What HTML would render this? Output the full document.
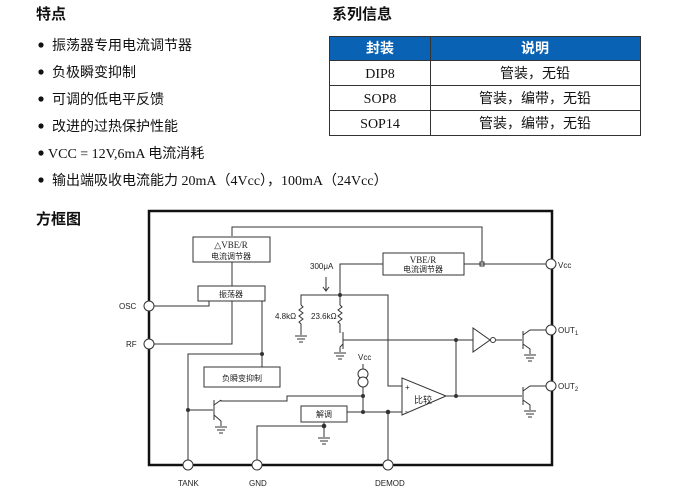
<!DOCTYPE html>
<html><head><meta charset="utf-8"><style>
html,body{margin:0;padding:0;background:#fff;}
svg{display:block}
.cj{font-family:"Liberation Serif","Noto Sans CJK SC",serif;}
.sm{font-family:"Liberation Sans","Noto Sans CJK SC",sans-serif;font-size:8px;fill:#222}
</style></head><body>
<svg width="675" height="491" viewBox="0 0 675 491" xmlns="http://www.w3.org/2000/svg">
<defs>
<g id="gnd" stroke="#333" stroke-width="1"><line x1="-6" y1="0" x2="6" y2="0"/><line x1="-4" y1="3" x2="4" y2="3"/><line x1="-2" y1="6" x2="2" y2="6"/></g>
</defs>
<!-- headings -->
<g font-family="'Liberation Sans','Noto Sans CJK SC',sans-serif" font-weight="bold" font-size="15" fill="#111">
<text x="36" y="19">特点</text>
<text x="332" y="19">系列信息</text>
<text x="36" y="224">方框图</text>
</g>
<g class="cj" font-size="14" fill="#111">
<circle cx="41" cy="45" r="2.6"/><text x="52" y="50">振荡器专用电流调节器</text>
<circle cx="41" cy="72" r="2.6"/><text x="52" y="77">负极瞬变抑制</text>
<circle cx="41" cy="99" r="2.6"/><text x="52" y="104">可调的低电平反馈</text>
<circle cx="41" cy="126" r="2.6"/><text x="52" y="131">改进的过热保护性能</text>
<circle cx="41" cy="153" r="2.6"/><text x="48" y="158">VCC = 12V,6mA 电流消耗</text>
<circle cx="41" cy="180" r="2.6"/><text x="52" y="185">输出端吸收电流能力 20mA（4Vcc），100mA（24Vcc）</text>
</g>
<!-- table -->
<rect x="329" y="36" width="311" height="24" fill="#0a62b4"/>
<g stroke="#333" stroke-width="1" fill="none">
<rect x="329.5" y="36.5" width="311" height="99"/>
<line x1="329" y1="60.5" x2="640" y2="60.5"/>
<line x1="329" y1="85.5" x2="640" y2="85.5"/>
<line x1="329" y1="110.5" x2="640" y2="110.5"/>
<line x1="430.5" y1="36" x2="430.5" y2="135"/>
</g>
<g font-family="'Liberation Sans','Noto Sans CJK SC',sans-serif" font-weight="bold" font-size="14" fill="#fff" text-anchor="middle">
<text x="380" y="53">封装</text><text x="535" y="53">说明</text>
</g>
<g class="cj" font-size="14" fill="#111" text-anchor="middle">
<text x="380" y="78">DIP8</text><text x="535" y="78">管装，无铅</text>
<text x="380" y="103">SOP8</text><text x="535" y="103">管装，编带，无铅</text>
<text x="380" y="128">SOP14</text><text x="535" y="128">管装，编带，无铅</text>
</g>
<!-- diagram frame -->
<rect x="149" y="211" width="403" height="254" fill="none" stroke="#111" stroke-width="2.5"/>
<g stroke="#333" stroke-width="1" fill="none">
<!-- top inner line -->
<polyline points="232,236 232,227 482,227 482,264"/>
<rect x="480" y="262" width="4" height="4" fill="#fff"/>
<!-- boxes -->
<rect x="193" y="237" width="77" height="25" fill="#fff"/>
<rect x="198" y="286" width="67" height="15" fill="#fff"/>
<rect x="383" y="253" width="81" height="22" fill="#fff"/>
<rect x="204" y="367" width="76" height="20" fill="#fff"/>
<rect x="301" y="406" width="46" height="16" fill="#fff"/>
<line x1="232" y1="262" x2="232" y2="286"/>
<polyline points="154,306 209,306 209,301"/>
<polyline points="154,344 232,344 232,301"/>
<polyline points="262,301 262,367"/>
<polyline points="262,354 188,354 188,460"/>
<line x1="188" y1="410" x2="213" y2="410"/>
<!-- tank transistor -->
<line x1="214" y1="400" x2="214" y2="420"/>
<line x1="214" y1="405" x2="221" y2="400"/>
<line x1="214" y1="415" x2="221" y2="421"/>
<polyline points="221,400 221,401 287,401 287,396 363,396"/>
<line x1="221" y1="421" x2="221" y2="426"/>
<!-- Vcc current source -->
<line x1="363" y1="364" x2="363" y2="412"/>
<circle cx="363" cy="374" r="5" fill="#fff"/><circle cx="363" cy="382" r="5" fill="#fff"/>
<!-- demod lines -->
<line x1="347" y1="412" x2="402" y2="412"/>
<line x1="388" y1="412" x2="388" y2="460"/>
<polyline points="324,422 324,426 257,426 257,460"/>
<line x1="324" y1="426" x2="324" y2="437"/>
<!-- comparator -->
<polygon points="402,378 402,415 446,396" fill="#fff"/>
<polyline points="402,386 388,386 388,295 301,295 301,305"/>
<polyline points="340,295 340,264 383,264"/>
<line x1="464" y1="264" x2="546" y2="264"/>
<polyline points="301,305 303,307 299,310 303,313 299,316 303,319 299,322 301,324 301,335"/>
<polyline points="340,295 340,305 342,307 338,310 342,313 338,316 342,319 338,322 340,324 340,333"/>
<!-- transistor 1 -->
<line x1="343" y1="332" x2="343" y2="349"/>
<line x1="343" y1="340" x2="456" y2="340"/>
<line x1="343" y1="344" x2="340" y2="347"/><line x1="340" y1="347" x2="340" y2="352"/>
<line x1="456" y1="340" x2="456" y2="396"/>
<line x1="446" y1="396" x2="522" y2="396"/>
<line x1="456" y1="340" x2="473" y2="340"/>
<polygon points="473,328 473,352 490,340" fill="#fff"/>
<circle cx="493" cy="340" r="2.5" fill="#fff"/>
<line x1="496" y1="340" x2="522" y2="340"/>
<!-- out1 transistor -->
<line x1="523" y1="331" x2="523" y2="349"/>
<polyline points="523,335 530,330 546,330"/>
<polyline points="523,344 530,349 530,354"/>
<line x1="523" y1="387" x2="523" y2="405"/>
<polyline points="523,391 530,386 546,386"/>
<polyline points="523,400 530,405 530,410"/>
<!-- arrow 300uA -->
<line x1="326" y1="277" x2="326" y2="291"/>
<polyline points="323,287 326,291 329,287"/>
</g>
<g fill="#333">
<circle cx="262" cy="354" r="2"/><circle cx="188" cy="410" r="2"/>
<circle cx="363" cy="396" r="2"/><circle cx="363" cy="412" r="2"/>
<circle cx="388" cy="412" r="2.3"/><circle cx="324" cy="426" r="2.3"/>
<circle cx="340" cy="295" r="2"/><circle cx="456" cy="340" r="2"/><circle cx="456" cy="396" r="2"/>
</g>
<use href="#gnd" x="301" y="336"/><use href="#gnd" x="340" y="353"/>
<use href="#gnd" x="221" y="427"/><use href="#gnd" x="324" y="438"/>
<use href="#gnd" x="530" y="355"/><use href="#gnd" x="530" y="411"/>
<!-- pins -->
<g stroke="#333" stroke-width="1" fill="#fff">
<circle cx="149" cy="306" r="5"/><circle cx="149" cy="344" r="5"/>
<circle cx="188" cy="465" r="5"/><circle cx="257" cy="465" r="5"/><circle cx="388" cy="465" r="5"/>
<circle cx="551" cy="264" r="5"/><circle cx="551" cy="330" r="5"/><circle cx="551" cy="386" r="5"/>
</g>
<g class="sm">
<text x="231" y="248" text-anchor="middle" font-family="'Liberation Serif',serif" font-size="9">△VBE/R</text>
<text x="231" y="259" text-anchor="middle">电流调节器</text>
<text x="231" y="297" text-anchor="middle">振荡器</text>
<text x="423" y="263" text-anchor="middle" font-family="'Liberation Serif',serif" font-size="9">VBE/R</text>
<text x="423" y="272" text-anchor="middle">电流调节器</text>
<text x="242" y="381" text-anchor="middle">负瞬变抑制</text>
<text x="324" y="417" text-anchor="middle">解调</text>
<text x="414" y="403" font-size="9">比较</text>
<text x="405" y="390">+</text><text x="405" y="414">-</text>
<text x="310" y="269">300μA</text>
<text x="275" y="319">4.8kΩ</text>
<text x="311" y="319">23.6kΩ</text>
<text x="358" y="360">Vcc</text>
<text x="119" y="309">OSC</text>
<text x="126" y="347">RF</text>
<text x="178" y="486">TANK</text>
<text x="249" y="486">GND</text>
<text x="375" y="486">DEMOD</text>
<text x="558" y="268">Vcc</text>
<text x="558" y="333">OUT<tspan font-size="6" dy="2">1</tspan></text>
<text x="558" y="389">OUT<tspan font-size="6" dy="2">2</tspan></text>
</g>
</svg>
</body></html>
